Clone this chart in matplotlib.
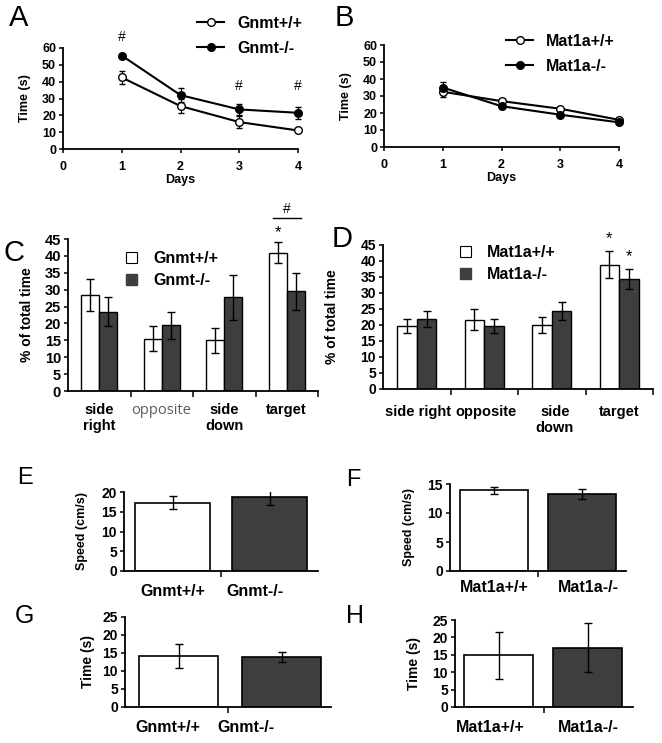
import numpy as np
import matplotlib.pyplot as plt
from matplotlib.lines import Line2D
from matplotlib.patches import Patch

plt.rcParams["font.family"] = ["Liberation Sans", "DejaVu Sans"]
plt.rcParams["font.weight"] = "bold"

W, H = 662, 743
DARK = "#3e3e3e"

# --- A / B: escape latency over training days
days = [1, 2, 3, 4]
gnmt_wt_time = [42.5, 25.5, 16, 11]
gnmt_wt_time_err = [4, 4, 3.5, 1]
gnmt_ko_time = [55.5, 32, 23.5, 21.5]
gnmt_ko_time_err = [1, 4, 3.5, 3.5]
mat_wt_time = [32.5, 27, 22.5, 16]
mat_wt_time_err = [3, 1, 1, 1]
mat_ko_time = [35, 24, 19, 14.5]
mat_ko_time_err = [3.5, 1, 1, 1]

# --- C / D: probe trial, % time per quadrant
gnmt_wt_pct = [28.5, 15.5, 15, 41]
gnmt_wt_pct_err = [4.7, 3.7, 3.7, 3.2]
gnmt_ko_pct = [23.5, 19.5, 27.7, 29.5]
gnmt_ko_pct_err = [4.2, 4, 6.7, 5.5]
mat_wt_pct = [19.8, 21.7, 20, 38.8]
mat_wt_pct_err = [2.2, 3.2, 2.5, 4.2]
mat_ko_pct = [22, 19.7, 24.5, 34.3]
mat_ko_pct_err = [2.5, 2.2, 2.8, 3.2]

# --- E-H: swim speed and visible platform time
gnmt_speed = [17.3, 18.7]
gnmt_speed_err = [1.6, 2]
mat_speed = [13.9, 13.3]
mat_speed_err = [0.6, 0.8]
gnmt_visible = [14.2, 13.9]
gnmt_visible_err = [3.3, 1.5]
mat_visible = [14.8, 17]
mat_visible_err = [6.7, 7]

gnmt_groups = ["Gnmt+/+", "Gnmt-/-"]
mat_groups = ["Mat1a+/+", "Mat1a-/-"]

fig = plt.figure(figsize=(W / 100, H / 100), dpi=100)


def px_axes(left, top, right, bottom):
    return fig.add_axes([left / W, 1 - bottom / H, (right - left) / W, (bottom - top) / H])


def ftext(x, y, s, **kw):
    kw.setdefault("ha", "center")
    kw.setdefault("va", "center")
    fig.text(x / W, 1 - y / H, s, **kw)


def style(ax, size):
    for side in ["top", "right"]:
        ax.spines[side].set_visible(False)
    for side in ["left", "bottom"]:
        ax.spines[side].set_linewidth(1.3)
    ax.tick_params(axis="y", width=1.1, length=3, labelsize=size, pad=2)
    ax.tick_params(axis="x", width=1.1, length=3, labelsize=size)


def ylabel_at(ax, text, xpix, size):
    box = ax.get_position()
    left = box.x0 * W
    width = box.width * W
    ax.set_ylabel(text, fontsize=size, fontweight="bold")
    ax.yaxis.set_label_coords((xpix - left) / width, 0.5)
    ax.yaxis.label.set_va("center")


def line_panel(ax, wt, wt_err, ko, ko_err, names, legend_xy, ylab_x):
    ax.errorbar(days, wt, yerr=wt_err, color="black", lw=1.5, marker="o", ms=5.5,
                mfc="white", mec="black", mew=1, capsize=2, elinewidth=0.8, clip_on=False, zorder=3)
    ax.errorbar(days, ko, yerr=ko_err, color="black", lw=1.5, marker="o", ms=5.5,
                mfc="black", mec="black", capsize=2, elinewidth=0.8, clip_on=False, zorder=3)
    ax.set_xlim(0, 4)
    ax.set_ylim(0, 60)
    ax.set_xticks(range(5))
    ax.set_yticks(range(0, 61, 10))
    style(ax, 9)
    ax.tick_params(axis="x", pad=6)
    ax.set_xlabel("Days", fontsize=9, fontweight="bold")
    ax.xaxis.set_label_coords(0.5, -0.25)
    ylabel_at(ax, "Time (s)", ylab_x, 9)
    handles = [
        Line2D([], [], color="black", lw=1.5, marker="o", ms=5.5, mfc="white", mec="black"),
        Line2D([], [], color="black", lw=1.5, marker="o", ms=5.5, mfc="black"),
    ]
    ax.legend(handles, names, loc="upper left", bbox_to_anchor=(legend_xy[0] / W, 1 - legend_xy[1] / H),
              bbox_transform=fig.transFigure, frameon=False, fontsize=11.5, handlelength=1.7,
              handletextpad=0.8, labelspacing=0.6, borderpad=0, borderaxespad=0)


def quadrant_panel(ax, wt, wt_err, ko, ko_err, names, legend_xy, ylab_x, tick_size):
    x = np.arange(4)
    w = 0.29
    ekw = dict(elinewidth=1, capthick=1, ecolor="black")
    ax.bar(x - w / 2, wt, w, yerr=wt_err, color="white", edgecolor="black", lw=1, capsize=3, error_kw=ekw)
    ax.bar(x + w / 2, ko, w, yerr=ko_err, color=DARK, edgecolor="black", lw=1, capsize=3, error_kw=ekw)
    ax.set_xlim(-0.5, 3.5)
    ax.set_ylim(0, 45)
    ax.set_yticks(range(0, 46, 5))
    ax.set_xticks([])
    ax.set_xticks([0.5, 1.5, 2.5, 3.5], minor=True)
    style(ax, tick_size)
    ax.tick_params(axis="x", which="minor", length=4, width=1.1)
    ylabel_at(ax, "% of total time", ylab_x, 10)
    handles = [Patch(facecolor="white", edgecolor="black", lw=0.8),
               Patch(facecolor=DARK, edgecolor=DARK)]
    ax.legend(handles, names, loc="upper left", bbox_to_anchor=(legend_xy[0] / W, 1 - legend_xy[1] / H),
              bbox_transform=fig.transFigure, frameon=False, fontsize=11.5, handlelength=0.7,
              handleheight=0.7, handletextpad=1.0, labelspacing=0.45, borderpad=0, borderaxespad=0)
    return x, w


def pair_panel(ax, vals, errs, centers, w, ymax, ystep, ylab, ylab_x, ylab_size):
    ekw = dict(elinewidth=1, capthick=1, ecolor="black")
    ax.bar(centers, vals, w, yerr=errs, color=["white", DARK], edgecolor="black", lw=1.2,
           capsize=3, error_kw=ekw)
    ax.set_xlim(0, 2)
    ax.set_ylim(0, ymax)
    ax.set_yticks(np.arange(0, ymax + 1, ystep))
    ax.set_xticks([])
    ax.set_xticks([1], minor=True)
    style(ax, 10)
    ax.tick_params(axis="x", which="minor", length=4, width=1.1)
    ylabel_at(ax, ylab, ylab_x, ylab_size)


# A
axA = px_axes(63, 48, 298, 149)
line_panel(axA, gnmt_wt_time, gnmt_wt_time_err, gnmt_ko_time, gnmt_ko_time_err,
           gnmt_groups, (197, 16), 25)
for d in [1, 3, 4]:
    top = gnmt_ko_time[d - 1] + gnmt_ko_time_err[d - 1]
    axA.text(d, max(top + 6, 33), "#", ha="center", va="bottom", fontsize=10, fontweight="normal", clip_on=False)

# B
axB = px_axes(384, 45, 619, 147)
line_panel(axB, mat_wt_time, mat_wt_time_err, mat_ko_time, mat_ko_time_err,
           mat_groups, (506, 34), 346)

# C
axC = px_axes(68, 239, 318, 391)
x, w = quadrant_panel(axC, gnmt_wt_pct, gnmt_wt_pct_err, gnmt_ko_pct, gnmt_ko_pct_err,
                      gnmt_groups, (126, 251), 27, 10.5)
axC.text(x[3] - w / 2, gnmt_wt_pct[3] + gnmt_wt_pct_err[3] + 0.5, "*", ha="center", va="bottom",
         fontsize=12, fontweight="normal", clip_on=False)
axC.plot([x[3] - 0.22, x[3] + 0.22], [51.3, 51.3], color="black", lw=1, clip_on=False)
axC.text(x[3], 51.8, "#", ha="center", va="bottom", fontsize=10, fontweight="normal", clip_on=False)

# D
axD = px_axes(383, 245, 653, 389)
x, w = quadrant_panel(axD, mat_wt_pct, mat_wt_pct_err, mat_ko_pct, mat_ko_pct_err,
                      mat_groups, (460, 245), 332, 10)
for xi, val, err in [(x[3] - w / 2, mat_wt_pct[3], mat_wt_pct_err[3]),
                     (x[3] + w / 2, mat_ko_pct[3], mat_ko_pct_err[3])]:
    axD.text(xi, val + err + 1.5, "*", ha="center", va="bottom", fontsize=12,
             fontweight="normal", clip_on=False)

# E-H
axE = px_axes(124, 492, 318, 571)
pair_panel(axE, gnmt_speed, gnmt_speed_err, [0.5, 1.5], 0.77, 20, 5, "Speed (cm/s)", 82, 9)
axF = px_axes(450, 484, 626, 571)
pair_panel(axF, mat_speed, mat_speed_err, [0.5, 1.5], 0.78, 15, 5, "Speed (cm/s)", 409, 9)
axG = px_axes(125, 617, 331, 707)
pair_panel(axG, gnmt_visible, gnmt_visible_err, [0.52, 1.52], 0.77, 25, 5, "Time (s)", 88, 10)
axH = px_axes(455, 620, 633, 707)
pair_panel(axH, mat_visible, mat_visible_err, [0.49, 1.49], 0.78, 25, 5, "Time (s)", 414, 10)

# category labels under the bar panels
ftext(99, 418, "side\nright", fontsize=10.5, linespacing=1.15)
ftext(161, 410, "opposite", fontsize=10.5, fontweight="normal", color="#5a5a5a", family="Open Sans")
ftext(224, 418, "side\ndown", fontsize=10.5, linespacing=1.15)
ftext(286, 410, "target", fontsize=10.5)
ftext(418, 412, "side right", fontsize=10.5)
ftext(486, 412, "opposite", fontsize=10.5)
ftext(555, 420, "side\ndown", fontsize=10.5, linespacing=1.15)
ftext(619, 412, "target", fontsize=10.5)

for (xa, xb), y, names in [((173, 255), 591, gnmt_groups), ((494, 588), 588, mat_groups),
                           ((168, 246), 728, gnmt_groups), ((490, 588), 728, mat_groups)]:
    ftext(xa, y, names[0], fontsize=11.5)
    ftext(xb, y, names[1], fontsize=11.5)

# panel letters
for letter, (px, py), size in [("A", (19, 18), 21), ("B", (344, 18), 21), ("C", (14, 253), 21),
                               ("D", (342, 239), 21), ("E", (25, 478), 17), ("F", (353, 480), 17),
                               ("G", (24, 616), 18), ("H", (355, 616), 18)]:
    ftext(px, py, letter, fontsize=size, fontweight="normal")

fig.savefig("out.png", dpi=100)
